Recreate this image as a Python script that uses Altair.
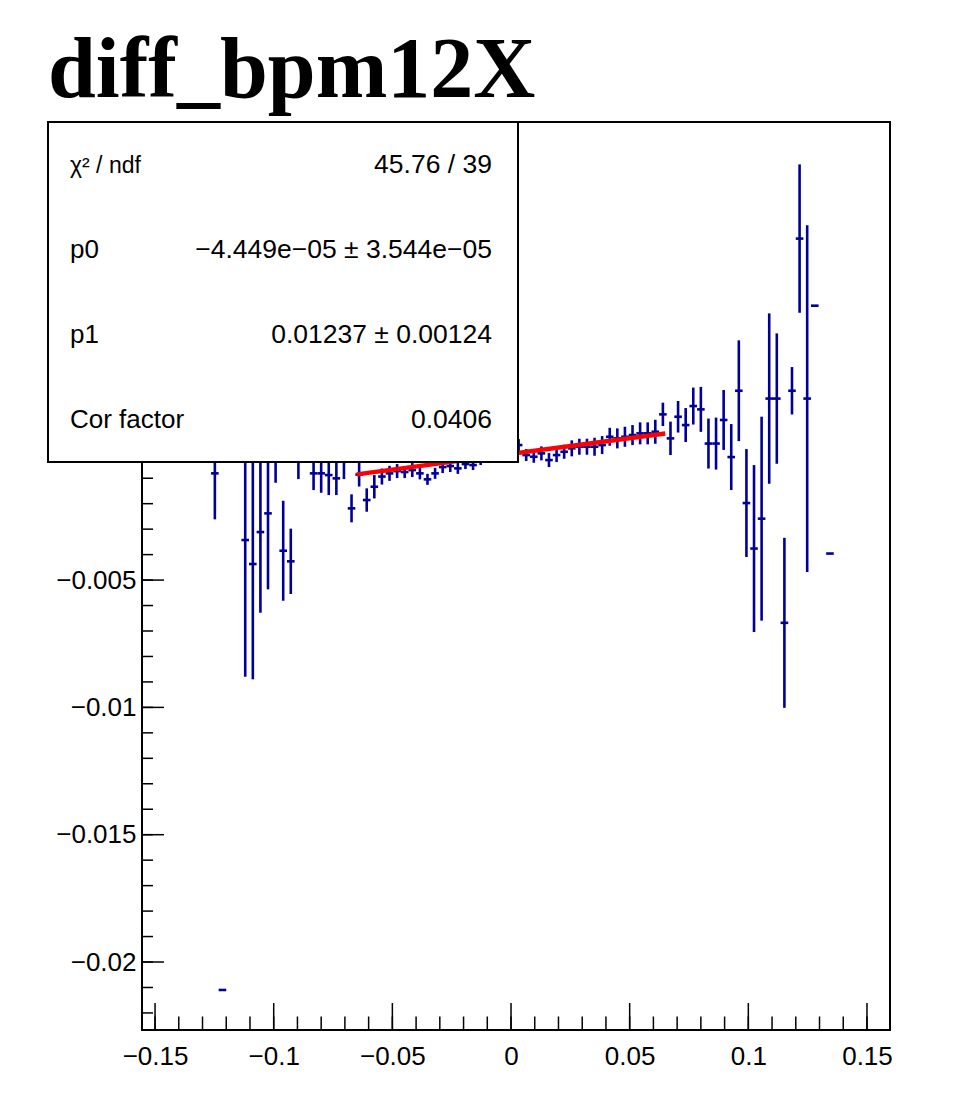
import altair as alt
import pandas as pd

# ---- data (profile bins: centre, mean, error) ----
bin_x = [-0.1248, -0.1216, -0.1120, -0.1088, -0.1056, -0.1024, -0.0992, -0.0960, -0.0928, -0.0896,
         -0.0832, -0.0800, -0.0768, -0.0736, -0.0704, -0.0672, -0.0640, -0.0608, -0.0576, -0.0544,
         -0.0512, -0.0480, -0.0448, -0.0416, -0.0384, -0.0352, -0.0320, -0.0288, -0.0256, -0.0224,
         -0.0192, -0.0160, -0.0128, -0.0096, -0.0064, -0.0032, 0.0000, 0.0032, 0.0064, 0.0096,
         0.0128, 0.0160, 0.0192, 0.0224, 0.0256, 0.0288, 0.0320, 0.0352, 0.0384, 0.0416,
         0.0448, 0.0480, 0.0512, 0.0544, 0.0576, 0.0608, 0.0640, 0.0672, 0.0704, 0.0736,
         0.0768, 0.0800, 0.0832, 0.0864, 0.0896, 0.0928, 0.0960, 0.0992, 0.1024, 0.1056,
         0.1088, 0.1120, 0.1152, 0.1184, 0.1216, 0.1248, 0.1280, 0.1344]
bin_y = [-0.000809, -0.021098, -0.003428, -0.004370, -0.003114, -0.002380, 0.000185, -0.003848, -0.004264, 0.000302,
         -0.000809, -0.000809, -0.000876, -0.001005, -0.000208, -0.002183, -0.000856, -0.001857, -0.001335, -0.000935,
         -0.000809, -0.000719, -0.000758, -0.000679, -0.000809, -0.001044, -0.000809, -0.000562, -0.000522, -0.000613,
         -0.000444, -0.000483, -0.000287, -0.000208, -0.000130, -0.000090, 0.000027, 0.000302, -0.000090, -0.000157,
         -0.000024, -0.000287, -0.000090, 0.000039, 0.000173, 0.000236, 0.000236, 0.000236, 0.000302, 0.000628,
         0.000565, 0.000628, 0.000695, 0.000762, 0.000762, 0.000825, 0.001508, 0.000565, 0.001414, 0.001088,
         0.001834, 0.001704, 0.000361, 0.000361, 0.001288, -0.000169, 0.002435, -0.001975, -0.003762, -0.002588,
         0.002128, 0.002128, -0.006679, 0.002435, 0.008411, 0.002128, 0.005776, -0.003958]
bin_err = [0.001806, 0.0, 0.005368, 0.004527, 0.003169, 0.002984, 0.001363, 0.001963, 0.001284, 0.001335,
           0.000656, 0.000762, 0.000785, 0.000656, 0.000825, 0.000550, 0.000471, 0.000459, 0.000459, 0.000314,
           0.000295, 0.000275, 0.000236, 0.000275, 0.000236, 0.000216, 0.000216, 0.000236, 0.000236, 0.000216,
           0.000196, 0.000196, 0.000196, 0.000196, 0.000196, 0.000196, 0.000196, 0.000236, 0.000236, 0.000236,
           0.000275, 0.000275, 0.000275, 0.000275, 0.000314, 0.000314, 0.000314, 0.000353, 0.000353, 0.000353,
           0.000393, 0.000393, 0.000393, 0.000432, 0.000432, 0.000471, 0.000459, 0.000656, 0.000620, 0.000668,
           0.000726, 0.000883, 0.000982, 0.001021, 0.001178, 0.001296, 0.001979, 0.002120, 0.003279, 0.004005,
           0.003346, 0.002560, 0.003338, 0.000931, 0.002914, 0.006809, 0.0, 0.0]
bin_width = 0.0032

# fit result
p0 = -4.449e-05
p1 = 0.01237
fit_range = [-0.065, 0.065]

stats_labels = ["χ² / ndf", "p0", "p1", "Cor factor"]
stats_values = ["45.76 / 39", "−4.449e−05 ± 3.544e−05", "0.01237 ± 0.00124", "0.0406"]

title_text = "diff_bpm12X"

x_label_values = [-0.15, -0.1, -0.05, 0, 0.05, 0.1, 0.15]
y_label_values = [-0.02, -0.015, -0.01, -0.005]   # the others sit under the stats box
x_minor_ticks = [round(-0.15 + 0.01 * i, 3) for i in range(31)]
y_minor_ticks = [round(-0.022 + 0.001 * i, 3) for i in range(35)]

# ---- build tables ----
df = pd.DataFrame({"x": bin_x, "y": bin_y, "e": bin_err})
df["lo"] = df["y"] - df["e"]
df["hi"] = df["y"] + df["e"]
df["xl"] = df["x"] - bin_width / 2
df["xr"] = df["x"] + bin_width / 2
dfv = df[df["e"] > 0]

fit_df = pd.DataFrame({"x": fit_range})
fit_df["y"] = p0 + p1 * fit_df["x"]

xmaj = pd.DataFrame({"v": x_label_values})
xmin_ = pd.DataFrame({"v": x_minor_ticks})
ymaj = pd.DataFrame({"v": [v for v in y_minor_ticks if abs(round(v / 0.005) * 0.005 - v) < 1e-9]})
ymin_ = pd.DataFrame({"v": y_minor_ticks})

W, H = 748, 908
BLUE = "#000099"
FONT = "Liberation Sans"
LABEL_EXPR = "replace(toString(datum.value), '-', '\u2212')"

xs = alt.Scale(domain=[-0.1555, 0.1597], nice=False, zero=False)
ys = alt.Scale(domain=[-0.02267, 0.01299], nice=False, zero=False)
xaxis = alt.Axis(values=x_label_values, labelExpr=LABEL_EXPR, labelPadding=13, labelFontSize=26,
                 labelFont=FONT, labelColor="black", domain=False, ticks=False, grid=False,
                 labelOverlap=False, title=None)
yaxis = alt.Axis(values=y_label_values, labelExpr=LABEL_EXPR, labelPadding=6, labelFontSize=26,
                 labelFont=FONT, labelColor="black", domain=False, ticks=False, grid=False,
                 labelOverlap=False, title=None)


def X(f):
    return alt.X(f, type="quantitative", scale=xs, axis=xaxis)


def Y(f):
    return alt.Y(f, type="quantitative", scale=ys, axis=yaxis)


vbars = alt.Chart(dfv).mark_rule(color=BLUE, strokeWidth=2.6).encode(
    x=X("x"), y=Y("lo"), y2="hi")
hbars = alt.Chart(df).mark_rule(color=BLUE, strokeWidth=2.6).encode(
    x=X("xl"), x2="xr", y=Y("y"))
fit = alt.Chart(fit_df).mark_line(color="#ff0000", strokeWidth=4.5).encode(
    x=X("x"), y=Y("y"))

xtick_major = alt.Chart(xmaj).mark_rule(color="black", strokeWidth=1.5).encode(
    x=X("v"), y=alt.value(H), y2=alt.value(H - 27))
xtick_minor = alt.Chart(xmin_).mark_rule(color="black", strokeWidth=1.5).encode(
    x=X("v"), y=alt.value(H), y2=alt.value(H - 13.5))
ytick_major = alt.Chart(ymaj).mark_rule(color="black", strokeWidth=1.5).encode(
    y=Y("v"), x=alt.value(0), x2=alt.value(22))
ytick_minor = alt.Chart(ymin_).mark_rule(color="black", strokeWidth=1.5).encode(
    y=Y("v"), x=alt.value(0), x2=alt.value(11))

one = pd.DataFrame({"t": [title_text]})
box = alt.Chart(one).mark_rect(fill="white", stroke="black", strokeWidth=2).encode(
    x=alt.value(-94), x2=alt.value(376), y=alt.value(0), y2=alt.value(340))

row_baselines = [51, 136, 221, 306]
label_sizes = [23, 26, 26, 26]
text_layers = []
for lab, val, yb, ls in zip(stats_labels, stats_values, row_baselines, label_sizes):
    t = pd.DataFrame({"lab": [lab], "val": [val]})
    text_layers.append(alt.Chart(t).mark_text(align="left", baseline="alphabetic", font=FONT,
                                              fontSize=ls, color="black").encode(
        text="lab:N", x=alt.value(-72), y=alt.value(yb)))
    text_layers.append(alt.Chart(t).mark_text(align="right", baseline="alphabetic", font=FONT,
                                              fontSize=26.5, color="black").encode(
        text="val:N", x=alt.value(350), y=alt.value(yb)))

title = alt.Chart(one).mark_text(align="left", baseline="alphabetic", font="Liberation Serif",
                                 fontWeight="bold", fontSize=86, color="black").encode(
    text="t:N", x=alt.value(-94), y=alt.value(-25))

chart = alt.layer(
    xtick_minor, xtick_major, ytick_minor, ytick_major,
    vbars, hbars, fit, box, *text_layers, title
).properties(
    width=W, height=H,
    autosize=alt.AutoSizeParams(type="none"),
    padding={"left": 134, "top": 114, "right": 61, "bottom": 57},
    background="white",
).configure_view(stroke="black", strokeWidth=2, fill="white")

chart.save("out.html", embed_options={"renderer": "svg", "actions": False})
